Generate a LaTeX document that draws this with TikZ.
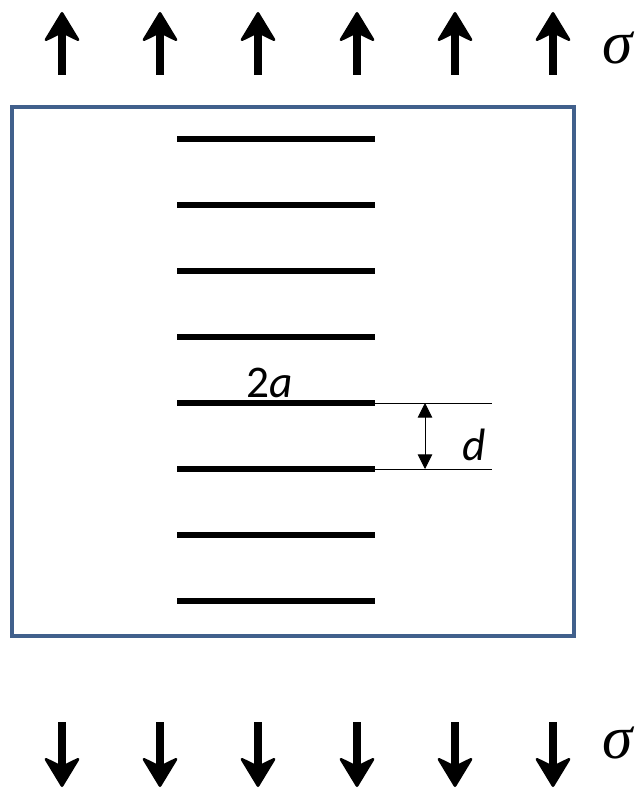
\documentclass[tikz,border=0pt]{standalone}
\usepackage{fontspec}
\newfontfamily\calib{Carlito}
\newfontfamily\timesf{Liberation Serif}
\usetikzlibrary{arrows.meta}
\definecolor{boxblue}{RGB}{65,96,140}

\begin{document}
\begin{tikzpicture}[x=0.75pt,y=-0.75pt,>=Stealth,
  force/.style={line width=6.5pt,-{Stealth[length=24pt,width=29pt,inset=7pt,round,line width=2pt]}},
  crack/.style={line width=4.2pt},
  dimline/.style={line width=0.7pt},
  lbl/.style={font=\calib\fontsize{34}{34}\selectfont,anchor=base,inner sep=0pt},
  sig/.style={font=\timesf\itshape\fontsize{46}{46}\selectfont,inner sep=0pt}]
\useasboundingbox (0,0) rectangle (640,792);
% plate
\draw[boxblue,line width=2.8pt] (12,107) rectangle (574,636);
% row of cracks
\foreach \i in {0,...,7} \draw[crack] (177,{139+66*\i}) coordinate (L\i) -- (375,{139+66*\i}) coordinate (R\i);
% remote stress
\foreach \x in {62,160,258,357,455,553} { \draw[force] (\x,75) -- (\x,12); \draw[force] (\x,722) -- (\x,787); }
\node[sig] (sigtop) at (618,48) {σ};
\node[sig] (sigbot) at (618,743) {σ};
% spacing d
\coordinate (e4) at (492,403); \coordinate (e5) at (492,469);
\coordinate (m4) at (425,403); \coordinate (m5) at (425,469);
\draw[dimline] (R4) -- (e4); \draw[dimline] (R5) -- (e5);
\draw[dimline,{Triangle[length=11pt,width=11pt]}-{Triangle[length=11pt,width=11pt]}] (m4) -- (m5);
\node[lbl] (lbld) at (474,460) {\textit{d}};
\node[lbl] (lbla) at (270,397) {2\textit{a}};
\end{tikzpicture}
\end{document}
